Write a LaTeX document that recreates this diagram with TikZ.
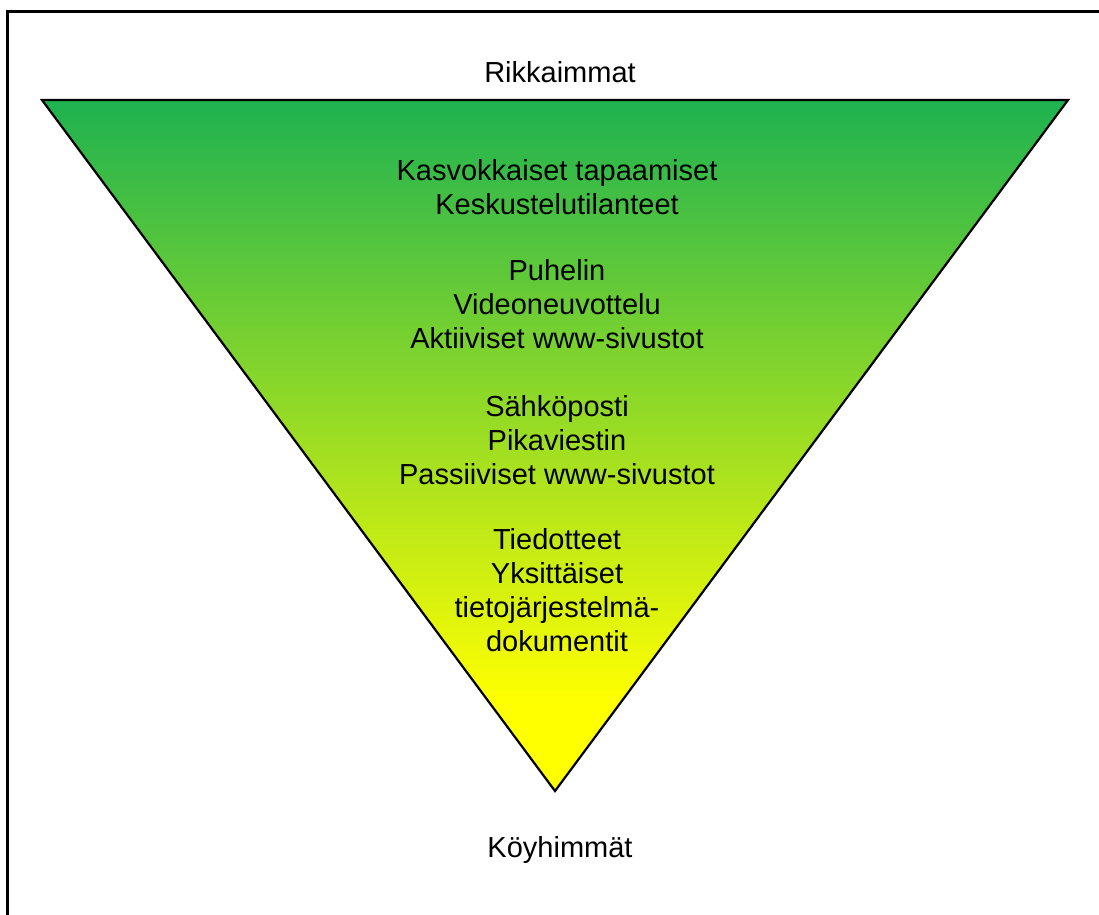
\documentclass[tikz,border=0pt]{standalone}
\usepackage{fontspec}
\setmainfont{Liberation Sans}
\usepackage{tikz}
\usetikzlibrary{positioning}
\definecolor{rich}{RGB}{30,178,80}
\definecolor{poor}{RGB}{255,255,0}

\begin{document}
\begin{tikzpicture}[
  x=1pt, y=-1pt,
  label/.style={font=\fontsize{29}{34}\selectfont, align=center, inner sep=0pt, anchor=base},
  ramp/.style={top color=rich, bottom color=poor},
  outline/.style={draw=black, line width=2.2pt, line join=miter},
  frame/.style={draw=black, line width=2.2pt},
]
  \useasboundingbox (0,0) rectangle (1099,914);
  \clip (0,0) rectangle (1099,914);
  \draw[frame] (7.5,11.5) rectangle (1110,925);

  \coordinate (tl) at (42,100);
  \coordinate (tr) at (1068,100);
  \coordinate (tip) at (555,791);
  % gradient runs out to plain yellow near the tip
  \begin{scope}
    \clip (tl) -- (tr) -- (tip) -- cycle;
    \shade[ramp] (42,100) rectangle (1068,700);
    \fill[poor] (42,699) rectangle (1068,795);
  \end{scope}
  \draw[outline] (tl) -- (tr) -- (tip) -- cycle;

  \node[label] (rich) at (560,82) {Rikkaimmat};
  \node[label] (face) at (557,214) {Kasvokkaiset tapaamiset\\Keskustelutilanteet};
  \node[label] (phone) at (557,348) {Puhelin\\Videoneuvottelu\\Aktiiviset www-sivustot};
  \node[label] (mail) at (557,484) {Sähköposti\\Pikaviestin\\Passiiviset www-sivustot};
  \node[label] (docs) at (557,651) {Tiedotteet\\Yksittäiset\\tietojärjestelmä-\\dokumentit};
  \node[label] (poor) at (560,857) {Köyhimmät};
\end{tikzpicture}
\end{document}
